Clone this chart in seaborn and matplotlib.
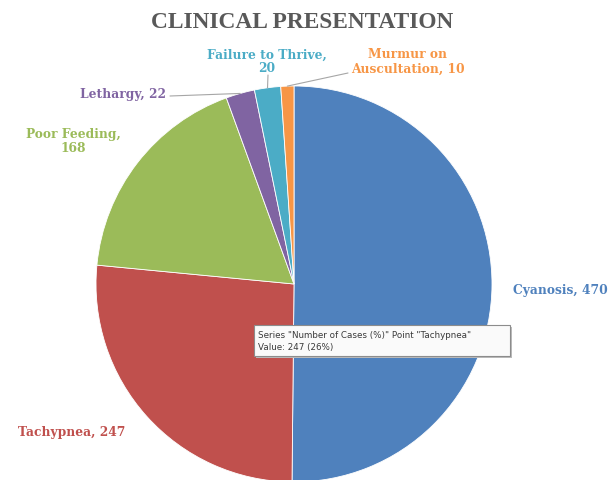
import matplotlib
matplotlib.use("Agg")
import matplotlib.pyplot as plt
import seaborn as sns
import numpy as np
from matplotlib.patches import Rectangle

# ---- data ----
categories = ["Cyanosis", "Tachypnea", "Poor Feeding", "Lethargy",
              "Failure to Thrive", "Murmur on Auscultation"]
cases = [470, 247, 168, 22, 20, 10]
label_texts = ["Cyanosis, 470", "Tachypnea, 247", "Poor Feeding,\n168",
               "Lethargy, 22", "Failure to Thrive,\n20",
               "Murmur on\nAuscultation, 10"]
title = "CLINICAL PRESENTATION"
tooltip = 'Series "Number of Cases (%)" Point "Tachypnea"\nValue: 247 (26%)'

colors = ["#4F81BD", "#C0504D", "#9BBB59", "#8064A2", "#4BACC6", "#F79646"]

sns.set_theme(style="white")
plt.rcParams['font.family'] = ['Liberation Serif', 'DejaVu Serif']

W, H = 609, 481
fig = plt.figure(figsize=(W / 100, H / 100), dpi=100)
fig.patch.set_facecolor("white")

cx, cy, R = 294, 285, 198  # pixel centre / radius of the pie
ax = fig.add_axes([(cx - R) / W, (H - (cy + R)) / H, 2 * R / W, 2 * R / H])
ax.axis("off")

wedges, _ = ax.pie(cases, colors=colors, startangle=90, counterclock=False,
                   radius=1.0, center=(0, 0),
                   wedgeprops=dict(edgecolor="white", linewidth=0.6))
ax.set_xlim(-1, 1)
ax.set_ylim(-1, 1)
ax.set_aspect("equal")


def px2d(px, py):
    return ((px - cx) / R, (cy - py) / R)


# label positions (pixel coords of text centre)
label_pos = [(560, 291), (72, 433), (73, 142), (123, 95), (267, 62), (408, 62)]
# start points of leader lines (pixel), None = no leader
leader_start = [None, None, None, (170, 97), (268, 76), (348, 74)]

total = float(sum(cases))
cum = np.cumsum(cases) - np.array(cases) / 2.0
mid_angles = np.deg2rad(90 - 360 * cum / total)

for i, txt in enumerate(label_texts):
    x, y = px2d(*label_pos[i])
    ax.text(x, y, txt, ha="center", va="center", color=colors[i],
            fontsize=8.8, fontweight="bold", linespacing=1.1,
            family=["DejaVu Serif"], clip_on=False)
    if leader_start[i] is not None:
        sx, sy = px2d(*leader_start[i])
        ex, ey = np.cos(mid_angles[i]), np.sin(mid_angles[i])
        ax.plot([sx, ex], [sy, ey], color="#A6A6A6", lw=0.8,
                clip_on=False, zorder=3)

fig.text(302 / W, 1 - 22 / H, title, ha="center", va="center",
         fontsize=16.8, fontweight="bold", color="#595959")

# tooltip box
bx0, by0, bx1, by1 = 254, 326, 510, 357
shadow = Rectangle(((bx0 + 2) / W, 1 - (by1 + 2) / H), (bx1 - bx0) / W,
                   (by1 - by0) / H, transform=fig.transFigure,
                   facecolor="#BBBBBB", edgecolor="none", zorder=9)
box = Rectangle((bx0 / W, 1 - by1 / H), (bx1 - bx0) / W, (by1 - by0) / H,
                transform=fig.transFigure, facecolor="#FAFAFA",
                edgecolor="#8C8C8C", lw=0.8, zorder=10)
fig.patches.extend([shadow, box])
fig.text((bx0 + 4) / W, 1 - (by0 + by1) / 2 / H, tooltip, ha="left",
         va="center", fontsize=6.3, color="#3A3A3A", linespacing=1.35,
         family=["DejaVu Sans"], zorder=11)

fig.savefig("out.png", dpi=100, facecolor="white")
